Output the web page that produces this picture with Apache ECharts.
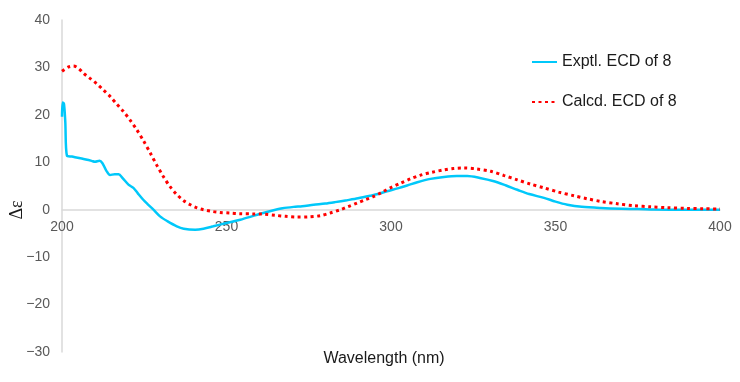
<!DOCTYPE html>
<html><head><meta charset="utf-8">
<script src="https://cdn.jsdelivr.net/npm/echarts@6/dist/echarts.min.js"></script>
<style>html,body{margin:0;padding:0;background:#fff}#c{width:740px;height:382px}</style>
</head><body><div id="c"></div>
<script>
const seriesNames = ['Exptl. ECD of 8', 'Calcd. ECD of 8'];
const xTicks = [200, 250, 300, 350, 400];
const yTicks = [-30, -20, -10, 0, 10, 20, 30, 40];

const exptlWl = [200,200.2,200.6,201,201.5,203,206,209,210,211.4,212.3,213.5,214.6,216,217.2,218.5,220.2,221.7,223,224.7,226,227.8,229.8,232,234.9,237,240.5,243,246,250,254.2,257.2,260,264.3,267,270.4,273,276.5,280,283,286.6,290,293.8,296,298.8,302,304.9,308,312,316.1,320,323.2,327,331.3,335,338.4,342,346.5,350,353.6,358,363.8,370,375,380,390,400];
const exptlVal = [19.6,22.6,22.3,18.5,11.4,11.2,10.8,10.3,10.1,10.3,9.8,8.2,7.3,7.5,7.5,6.6,5.3,4.6,3.5,2.1,1.2,0,-1.4,-2.4,-3.5,-4.0,-4.2,-4.0,-3.5,-2.8,-2.1,-1.5,-0.9,-0.1,0.3,0.6,0.75,1.05,1.3,1.6,2.0,2.4,2.95,3.3,3.9,4.5,5.1,5.8,6.5,6.9,7.1,7.1,6.7,6.0,5.1,4.2,3.3,2.5,1.7,1.05,0.6,0.35,0.2,0.15,0.05,0,0];

const calcdWl = [200,202,203.5,205,206.5,208.5,210.5,212.5,214.6,216.5,218.7,220.7,222.7,224.8,226.8,228.8,230.8,232.8,234.9,237,239,241,243,245.5,248,251,254,258,261.3,265,268,271.4,275,278.5,281.5,284.6,287,289.7,292.2,294.8,297.3,299.8,302.9,305.9,309,312.5,316,319,322.1,326,330.3,334.4,338.4,342.4,346.5,351,355.6,359.7,363.8,368.8,373.9,379,384,390,395,400];
const calcdVal = [29.2,30.1,30.3,29.8,28.8,27.7,26.6,25.3,23.9,22.4,20.7,18.9,16.9,14.5,12.0,9.4,7.0,4.9,3.2,1.9,1.05,0.4,0,-0.35,-0.57,-0.7,-0.84,-0.88,-0.95,-1.2,-1.4,-1.55,-1.5,-1.26,-0.7,0,0.65,1.4,2.1,2.8,3.7,4.6,5.6,6.5,7.3,7.9,8.4,8.7,8.8,8.6,8.1,7.2,6.3,5.4,4.6,3.7,2.95,2.3,1.75,1.25,0.84,0.6,0.42,0.28,0.2,0.15];

const zip = (a, b) => a.map((x, i) => [x, b[i]]);
const font = 'Liberation Sans, Arial, sans-serif';

const chart = echarts.init(document.getElementById('c'), null, {renderer: 'canvas'});
chart.setOption({
  animation: false,
  grid: {left: 62, right: 20, top: 20, bottom: 30, containLabel: false, outerBoundsMode: 'none'},
  legend: {
    orient: 'vertical', left: 526, top: 49, itemGap: 24,
    itemWidth: 25, itemHeight: 12,
    itemStyle: {opacity: 0},
    textStyle: {fontFamily: font, fontSize: 16, color: '#1a1a1a'},
    data: seriesNames
  },
  xAxis: {
    type: 'value', min: xTicks[0], max: xTicks[xTicks.length - 1], interval: 50,
    offset: -142.3,
    axisLine: {onZero: false, lineStyle: {color: '#d9d9d9', width: 1.5}},
    axisTick: {show: false},
    splitLine: {show: false},
    axisLabel: {fontFamily: font, fontSize: 14, color: '#595959', margin: 10},
    name: 'Wavelength (nm)', nameLocation: 'middle', nameGap: 141, nameMoveOverlap: false,
    nameTextStyle: {fontFamily: font, fontSize: 16, color: '#1a1a1a', padding: [0, 14, 0, 0]}
  },
  yAxis: {
    type: 'value', min: yTicks[0], max: yTicks[yTicks.length - 1], interval: 10,
    axisLine: {show: true, onZero: false, lineStyle: {color: '#d9d9d9', width: 1.5}},
    axisTick: {show: false},
    splitLine: {show: false},
    axisLabel: {fontFamily: font, fontSize: 14, color: '#595959', margin: 12,
      formatter: v => (v < 0 ? '\u2212' + Math.abs(v) : String(v))},
    name: 'Δε', nameLocation: 'middle', nameGap: 36, nameRotate: 90, nameMoveOverlap: false,
    nameTextStyle: {fontFamily: 'Liberation Serif, serif', fontSize: 18, color: '#1a1a1a', padding: [0, 48, 0, 0]}
  },
  series: [
    {name: seriesNames[0], type: 'line', data: zip(exptlWl, exptlVal), symbol: 'none', smooth: 0.3,
     lineStyle: {color: '#00C8FA', width: 2.5}, itemStyle: {color: '#00C8FA'}, z: 3},
    {name: seriesNames[1], type: 'line', data: zip(calcdWl, calcdVal), symbol: 'none', smooth: 0.3,
     lineStyle: {color: '#FF0000', width: 3, type: [3, 3.5]}, itemStyle: {color: '#FF0000'}, z: 4}
  ]
});
</script></body></html>
